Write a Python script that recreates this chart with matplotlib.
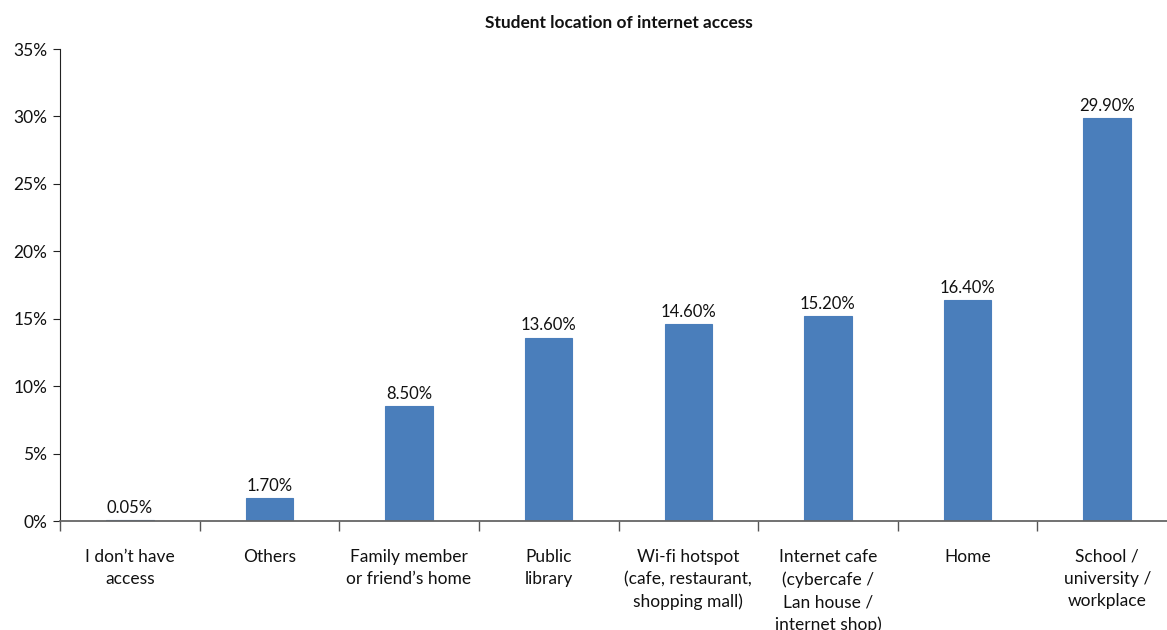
import matplotlib
matplotlib.use("Agg")
import matplotlib.pyplot as plt
from matplotlib.ticker import FixedLocator, PercentFormatter

plt.rcParams['font.family'] = ['Lato', 'DejaVu Sans']

categories = [
    "I don\u2019t have\naccess",
    "Others",
    "Family member\nor friend\u2019s home",
    "Public\nlibrary",
    "Wi-fi hotspot\n(cafe, restaurant,\nshopping mall)",
    "Internet cafe\n(cybercafe /\nLan house /\ninternet shop)",
    "Home",
    "School /\nuniversity /\nworkplace",
]
values = [0.05, 1.70, 8.50, 13.60, 14.60, 15.20, 16.40, 29.90]
value_labels = ["0.05%", "1.70%", "8.50%", "13.60%", "14.60%", "15.20%", "16.40%", "29.90%"]
yticks = [0, 5, 10, 15, 20, 25, 30, 35]

W, H = 1167, 630
fig = plt.figure(figsize=(W / 100, H / 100), dpi=100)
left, right, bottom, top = 60, 1177, 521, 49
ax = fig.add_axes([left / W, (H - bottom) / H, (right - left) / W, (bottom - top) / H])

bar_color = "#4a7ebb"
x = list(range(len(categories)))
ax.bar(x, values, width=0.34, color=bar_color, edgecolor=bar_color, linewidth=0.8, zorder=2)

for xi, v, lab in zip(x, values, value_labels):
    ax.annotate(lab, (xi, v), xytext=(0, 3), textcoords="offset points",
                ha="center", va="bottom", fontsize=12, color="#111111")

ax.set_xlim(-0.5, len(categories) - 0.5)
ax.set_ylim(0, 35)
ax.yaxis.set_major_locator(FixedLocator(yticks))
ax.yaxis.set_major_formatter(PercentFormatter(decimals=0))

ax.set_xticks(x)
ax.set_xticklabels(categories, fontsize=12.5, color="#111111", linespacing=1.48)
ax.set_xticks([i - 0.5 for i in range(len(categories) + 1)], minor=True)
ax.tick_params(axis="x", which="major", length=0, pad=20)
ax.tick_params(axis="x", which="minor", length=7, direction="out", color="#555555", width=1)
ax.tick_params(axis="y", which="major", length=5, direction="out", color="#222222",
               labelsize=12.5, labelcolor="#111111", pad=4)

for side in ("top", "right"):
    ax.spines[side].set_visible(False)
ax.spines["left"].set_color("#222222")
ax.spines["bottom"].set_color("#666666")
ax.spines["bottom"].set_linewidth(1.3)

fig.text(618.5 / W, 1 - 23 / H, "Student location of internet access", ha="center", va="center",
         fontsize=12.4, fontweight="bold", color="#111111")

fig.savefig("out.png", dpi=100)
